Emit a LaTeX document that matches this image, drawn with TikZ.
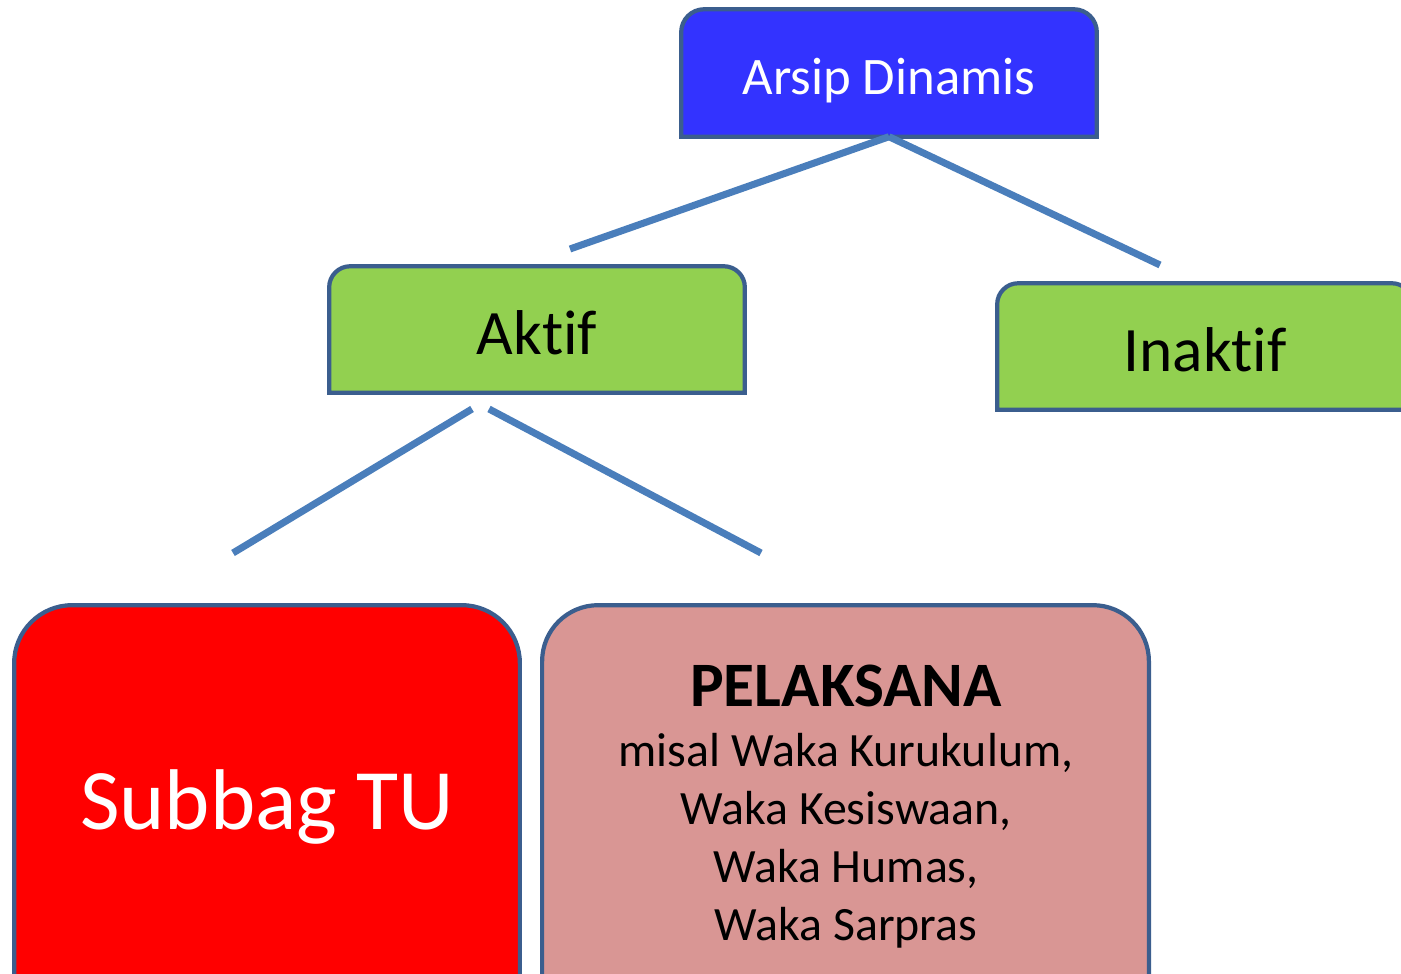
\documentclass[tikz,border=0pt]{standalone}
\usepackage{fontspec}
\setmainfont{Carlito}[Ligatures=NoCommon]
\definecolor{arsipblue}{HTML}{3333FF}
\definecolor{aktifgreen}{HTML}{92D050}
\definecolor{subbagred}{HTML}{FF0000}
\definecolor{pelaksanapink}{HTML}{D99694}
\definecolor{edgeblue}{HTML}{3B5E8E}
\definecolor{linkblue}{HTML}{4A7EBB}
\begin{document}
\begin{tikzpicture}[x=0.01cm,y=-0.01cm,
  box/.style={rectangle, inner sep=0pt},
  outline/.style={draw=edgeblue, line width=1.2pt},
  link/.style={draw=linkblue, line width=2pt},
  label/.style={anchor=base, inner sep=0pt}]
\useasboundingbox (0,0) rectangle (1401,974);
\clip (0,0) rectangle (1401,974);
% boxes
\node[box, minimum width=4.14cm, minimum height=1.26cm] (arsip) at (889,73) {};
\node[box, minimum width=4.14cm, minimum height=1.25cm] (aktif) at (537,329.5) {};
\node[box, minimum width=4.14cm, minimum height=1.25cm] (inaktif) at (1205,346.5) {};
\node[box, minimum width=5.04cm, minimum height=4.2cm] (subbag) at (267,816) {};
\node[box, minimum width=6.05cm, minimum height=4.2cm] (pelaksana) at (845.5,816) {};
\foreach \n/\r/\c in {arsip/0.23cm/arsipblue, aktif/0.21cm/aktifgreen, inaktif/0.21cm/aktifgreen,
    subbag/0.58cm/subbagred, pelaksana/0.56cm/pelaksanapink}
  \draw[outline, fill=\c] (\n.south west) [rounded corners=\r] -- (\n.north west)
    -- (\n.north east) [sharp corners] -- (\n.south east) -- cycle;
% texts
\node[label, text=white, font=\fontsize{15}{18}\selectfont] (arsiptext) at (889,95) {Arsip Dinamis};
\node[label, font=\fontsize{18}{22}\selectfont] (aktiftext) at (537,355) {Aktif};
\node[label, font=\fontsize{18}{22}\selectfont] (inaktiftext) at (1205,372) {Inaktif};
\node[label, text=white, font=\fontsize{24.5}{29}\selectfont] (subbagtext) at (267,830) {Subbag TU};
\node[label, font=\bfseries\fontsize{18}{22}\selectfont] (pelaksanatitle) at (846,707) {PELAKSANA};
\node[label, align=center, font=\fontsize{13.6}{16.4}\selectfont] (pelaksanalist) at (846,940)
  {misal Waka Kurukulum,\\Waka Kesiswaan,\\Waka Humas,\\Waka Sarpras};
% connectors
\coordinate (toaktif) at (570,249);
\coordinate (toinaktif) at (1160,265);
\coordinate (aktifleft) at (472,409);
\coordinate (aktifright) at (489,409);
\coordinate (tosubbag) at (233,553);
\coordinate (topelaksana) at (761,553);
\draw[link] (arsip.south) -- (toaktif);
\draw[link] (arsip.south) -- (toinaktif);
\draw[link] (aktifleft) -- (tosubbag);
\draw[link] (aktifright) -- (topelaksana);
\end{tikzpicture}
\end{document}
